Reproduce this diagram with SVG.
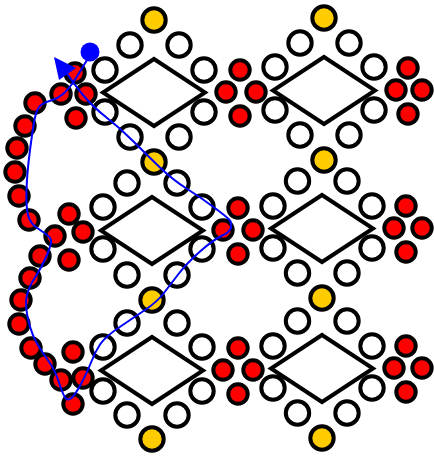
<svg xmlns="http://www.w3.org/2000/svg" width="434" height="458" viewBox="0 0 434 458">
<style>
.w{fill:#fff;stroke:#000;stroke-width:4;r:11.7px}
.y{fill:#fc0;stroke:#000;stroke-width:4;r:11.7px}
.r{fill:#f00;stroke:#000;stroke-width:4;r:9.700px}
.d{fill:#fff;stroke:#000;stroke-width:4;stroke-miterlimit:10}
.c{fill:none;stroke:#00f;stroke-width:2}
</style>
<rect width="434" height="458" fill="#fff"/>
<g id="block-a1">
<g id="a1-y1"><circle class="y" cx="154" cy="20"/></g>
<g id="a1-w1"><circle class="w" cx="130" cy="45"/></g>
<g id="a1-w2"><circle class="w" cx="179" cy="45"/></g>
<g id="a1-w3"><circle class="w" cx="105" cy="70"/></g>
<g id="a1-w4"><circle class="w" cx="204" cy="70"/></g>
<g id="a1-w5"><circle class="w" cx="105" cy="112"/></g>
<g id="a1-w6"><circle class="w" cx="204" cy="112"/></g>
<g id="a1-w7"><circle class="w" cx="130" cy="137"/></g>
<g id="a1-w8"><circle class="w" cx="179" cy="137"/></g>
<g id="a1-y2"><circle class="y" cx="154" cy="162"/></g>
<g id="a1-d"><polygon class="d" points="154,59 205,92.500 154,126 103,92.500"/></g>
</g>
<g id="block-a2">
<g id="a2-w1"><circle class="w" cx="127" cy="183"/></g>
<g id="a2-w2"><circle class="w" cx="177" cy="183"/></g>
<g id="a2-w3"><circle class="w" cx="103" cy="207"/></g>
<g id="a2-w4"><circle class="w" cx="202" cy="207"/></g>
<g id="a2-w5"><circle class="w" cx="103" cy="249"/></g>
<g id="a2-w6"><circle class="w" cx="202" cy="249"/></g>
<g id="a2-w7"><circle class="w" cx="127" cy="275"/></g>
<g id="a2-w8"><circle class="w" cx="177" cy="275"/></g>
<g id="a2-y"><circle class="y" cx="152" cy="300"/></g>
<g id="a2-d"><polygon class="d" points="152,197 203,230.500 152,264 101,230.500"/></g>
</g>
<g id="block-a3">
<g id="a3-w1"><circle class="w" cx="127" cy="323"/></g>
<g id="a3-w2"><circle class="w" cx="177" cy="323"/></g>
<g id="a3-w3"><circle class="w" cx="103" cy="347"/></g>
<g id="a3-w4"><circle class="w" cx="202" cy="347"/></g>
<g id="a3-w5"><circle class="w" cx="103" cy="391"/></g>
<g id="a3-w6"><circle class="w" cx="202" cy="391"/></g>
<g id="a3-w7"><circle class="w" cx="127" cy="415"/></g>
<g id="a3-w8"><circle class="w" cx="177" cy="415"/></g>
<g id="a3-y"><circle class="y" cx="152" cy="439"/></g>
<g id="a3-d"><polygon class="d" points="152,337 203,370.500 152,404 101,370.500"/></g>
</g>
<g id="block-b1">
<g id="b1-y1"><circle class="y" cx="324" cy="18"/></g>
<g id="b1-w1"><circle class="w" cx="300" cy="43"/></g>
<g id="b1-w2"><circle class="w" cx="349" cy="43"/></g>
<g id="b1-w3"><circle class="w" cx="275" cy="67"/></g>
<g id="b1-w4"><circle class="w" cx="374" cy="67"/></g>
<g id="b1-w5"><circle class="w" cx="275" cy="110"/></g>
<g id="b1-w6"><circle class="w" cx="374" cy="110"/></g>
<g id="b1-w7"><circle class="w" cx="300" cy="135"/></g>
<g id="b1-w8"><circle class="w" cx="349" cy="135"/></g>
<g id="b1-y2"><circle class="y" cx="324" cy="160"/></g>
<g id="b1-d"><polygon class="d" points="324,57 375,90.500 324,124 273,90.500"/></g>
</g>
<g id="block-b2">
<g id="b2-w1"><circle class="w" cx="297.500" cy="181"/></g>
<g id="b2-w2"><circle class="w" cx="347" cy="181"/></g>
<g id="b2-w3"><circle class="w" cx="273" cy="206"/></g>
<g id="b2-w4"><circle class="w" cx="372" cy="206"/></g>
<g id="b2-w5"><circle class="w" cx="273" cy="248"/></g>
<g id="b2-w6"><circle class="w" cx="372" cy="248"/></g>
<g id="b2-w7"><circle class="w" cx="297.500" cy="273"/></g>
<g id="b2-w8"><circle class="w" cx="347" cy="273"/></g>
<g id="b2-y"><circle class="y" cx="322" cy="298"/></g>
<g id="b2-d"><polygon class="d" points="322,195 373,228.500 322,262 271,228.500"/></g>
</g>
<g id="block-b3">
<g id="b3-w1"><circle class="w" cx="297.500" cy="321"/></g>
<g id="b3-w2"><circle class="w" cx="347" cy="321"/></g>
<g id="b3-w3"><circle class="w" cx="273" cy="346"/></g>
<g id="b3-w4"><circle class="w" cx="372" cy="346"/></g>
<g id="b3-w5"><circle class="w" cx="273" cy="388"/></g>
<g id="b3-w6"><circle class="w" cx="372" cy="388"/></g>
<g id="b3-w7"><circle class="w" cx="297.500" cy="413"/></g>
<g id="b3-w8"><circle class="w" cx="347" cy="413"/></g>
<g id="b3-y"><circle class="y" cx="322" cy="438"/></g>
<g id="b3-d"><polygon class="d" points="322,335 373,368.500 322,402 271,368.500"/></g>
</g>
<g id="red-dots">
<g id="r01"><circle class="r" cx="75" cy="73"/></g>
<g id="r02"><circle class="r" cx="61" cy="94"/></g>
<g id="r03"><circle class="r" cx="86" cy="94"/></g>
<g id="r04"><circle class="r" cx="76" cy="118"/></g>
<g id="r05"><circle class="r" cx="35" cy="103"/></g>
<g id="r06"><circle class="r" cx="25" cy="126"/></g>
<g id="r07"><circle class="r" cx="17" cy="148"/></g>
<g id="r08"><circle class="r" cx="15" cy="172"/></g>
<g id="r09"><circle class="r" cx="19" cy="196"/></g>
<g id="r10"><circle class="r" cx="29" cy="220"/></g>
<g id="r11"><circle class="r" cx="69" cy="214"/></g>
<g id="r12"><circle class="r" cx="55" cy="236"/></g>
<g id="r13"><circle class="r" cx="83" cy="232"/></g>
<g id="r14"><circle class="r" cx="40" cy="256"/></g>
<g id="r15"><circle class="r" cx="69" cy="260"/></g>
<g id="r16"><circle class="r" cx="30" cy="278"/></g>
<g id="r17"><circle class="r" cx="21" cy="300"/></g>
<g id="r18"><circle class="r" cx="19" cy="324"/></g>
<g id="r19"><circle class="r" cx="31" cy="348"/></g>
<g id="r20"><circle class="r" cx="73" cy="352"/></g>
<g id="r21"><circle class="r" cx="45" cy="364"/></g>
<g id="r22"><circle class="r" cx="61" cy="380"/></g>
<g id="r23"><circle class="r" cx="83" cy="378"/></g>
<g id="r24"><circle class="r" cx="73" cy="404"/></g>
<g id="r25"><circle class="r" cx="240" cy="70"/></g>
<g id="r26"><circle class="r" cx="226" cy="92"/></g>
<g id="r27"><circle class="r" cx="256" cy="92"/></g>
<g id="r28"><circle class="r" cx="240" cy="116"/></g>
<g id="r29"><circle class="r" cx="238" cy="208"/></g>
<g id="r30"><circle class="r" cx="223" cy="230"/></g>
<g id="r31"><circle class="r" cx="253" cy="230"/></g>
<g id="r32"><circle class="r" cx="238" cy="254"/></g>
<g id="r33"><circle class="r" cx="238" cy="348"/></g>
<g id="r34"><circle class="r" cx="223" cy="370"/></g>
<g id="r35"><circle class="r" cx="253" cy="370"/></g>
<g id="r36"><circle class="r" cx="238" cy="394"/></g>
<g id="r37"><circle class="r" cx="408" cy="68"/></g>
<g id="r38"><circle class="r" cx="396" cy="90"/></g>
<g id="r39"><circle class="r" cx="422" cy="90"/></g>
<g id="r40"><circle class="r" cx="408" cy="114"/></g>
<g id="r41"><circle class="r" cx="406" cy="206"/></g>
<g id="r42"><circle class="r" cx="394" cy="228"/></g>
<g id="r43"><circle class="r" cx="422" cy="228"/></g>
<g id="r44"><circle class="r" cx="406" cy="252"/></g>
<g id="r45"><circle class="r" cx="406" cy="346"/></g>
<g id="r46"><circle class="r" cx="394" cy="368"/></g>
<g id="r47"><circle class="r" cx="422" cy="368"/></g>
<g id="r48"><circle class="r" cx="406" cy="392"/></g>
</g>
<g id="connectors">
<path class="c" d="M87 60Q80 72 74 81Q68 90 62.500 94.500Q57 99 51 100.500Q45 102 41 105Q37 108 35 117.500Q33 127 30 150Q27 173 26.500 190Q26 207 28 215Q30 223 36.500 227.500Q43 232 46.500 234.500Q50 237 51 240Q52 243 47 255Q42 267 35 277.500Q28 288 26.500 297.500Q25 307 28.500 321Q32 335 37 343.500Q42 352 48.500 361Q55 370 59 382.500Q63 395 65.500 398Q68 401 71.500 398Q75 395 81 384Q87 373 91 362.500Q95 352 100 344.500Q105 337 119 327.500Q133 318 145 310Q157 302 163.500 293.500Q170 285 178.500 274Q187 263 200 251.500Q213 240 221.500 236Q230 232 231 227.500Q232 223 229.500 220Q227 217 213.500 207Q200 197 186.500 188.500Q173 180 160 167.500Q147 155 133.500 141.500Q120 128 106.500 117.500Q93 107 83 95Q73 83 66 72"/>
<circle cx="90" cy="52" r="9.500" fill="#00f"/>
<polygon points="54,57 76,68 59,80" fill="#00f"/>
</g>
</svg>
